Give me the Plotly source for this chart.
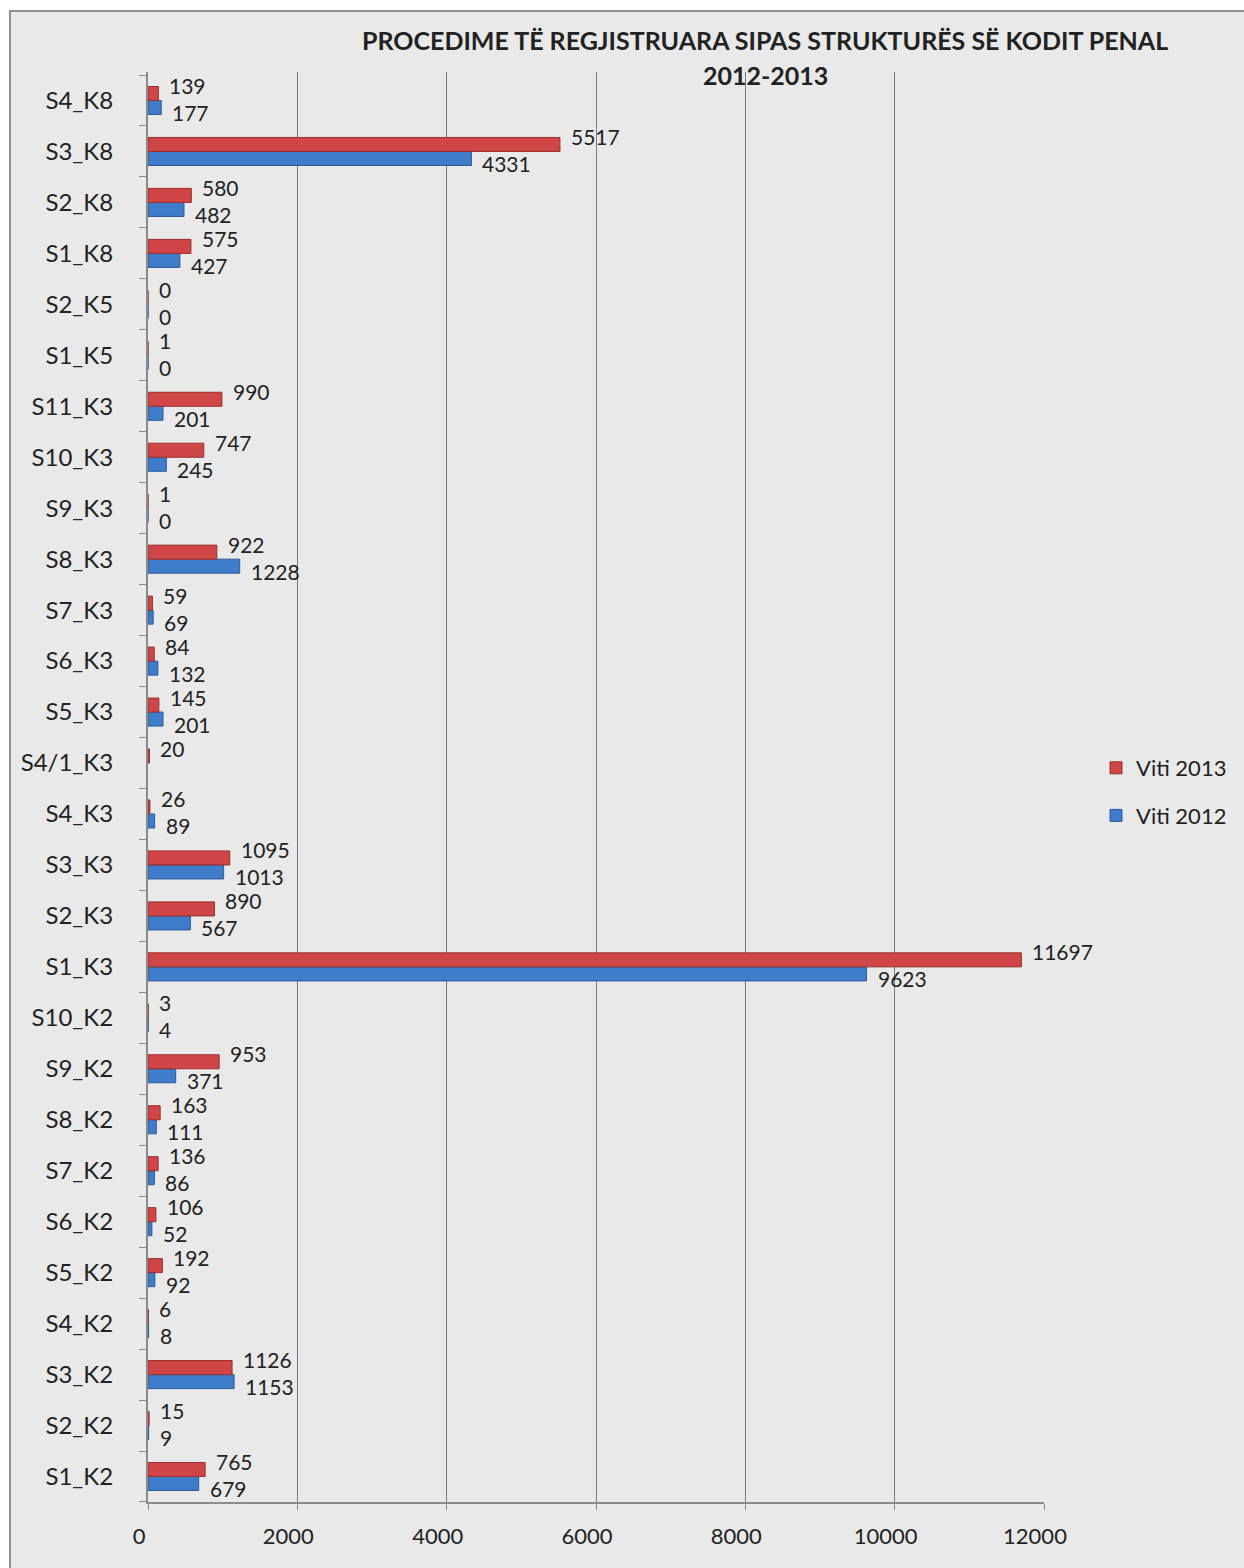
import plotly.graph_objects as go

categories = ["S1_K2", "S2_K2", "S3_K2", "S4_K2", "S5_K2", "S6_K2", "S7_K2", "S8_K2",
              "S9_K2", "S10_K2", "S1_K3", "S2_K3", "S3_K3", "S4_K3", "S4/1_K3", "S5_K3",
              "S6_K3", "S7_K3", "S8_K3", "S9_K3", "S10_K3", "S11_K3", "S1_K5", "S2_K5",
              "S1_K8", "S2_K8", "S3_K8", "S4_K8"]
viti_2012 = [679, 9, 1153, 8, 92, 52, 86, 111, 371, 4, 9623, 567, 1013, 89, None, 201,
             132, 69, 1228, 0, 245, 201, 0, 0, 427, 482, 4331, 177]
viti_2013 = [765, 15, 1126, 6, 192, 106, 136, 163, 953, 3, 11697, 890, 1095, 26, 20, 145,
             84, 59, 922, 1, 747, 990, 1, 0, 575, 580, 5517, 139]
x_ticks = [0, 2000, 4000, 6000, 8000, 10000, 12000]

FONT = "Lato"
W, H = 1244, 1568
L, R, T, B = 148, 200, 72, 66
pw = W - L - R
ph = H - T - B

def px_x(p):
    return (p - L) / pw

def px_y(p):
    return (H - B - p) / ph

fig = go.Figure()
fig.add_trace(go.Bar(
    y=categories, x=viti_2012, orientation="h", name="Viti 2012",
    marker=dict(color="#3f7cc9", line=dict(color="#2a5a9a", width=1)),
    cliponaxis=False, legendrank=2, legendgroup="g2012",
))
fig.add_trace(go.Bar(
    y=categories, x=viti_2013, orientation="h", name="Viti 2013",
    marker=dict(color="#d04646", line=dict(color="#9a2e2e", width=1)),
    cliponaxis=False, legendrank=1, legendgroup="g2013",
))

annotations = []
for cat, v in zip(categories, viti_2013):
    if v is None:
        continue
    annotations.append(dict(x=v, y=cat, xref="x", yref="y", text=str(v), showarrow=False,
                            xanchor="left", yanchor="middle", xshift=10, yshift=15,
                            borderpad=0,
                            font=dict(family=FONT, size=21, color="#222")))
for cat, v in zip(categories, viti_2012):
    if v is None:
        continue
    annotations.append(dict(x=v, y=cat, xref="x", yref="y", text=str(v), showarrow=False,
                            xanchor="left", yanchor="middle", xshift=10, yshift=-12,
                            borderpad=0,
                            font=dict(family=FONT, size=21, color="#222")))

annotations.append(dict(
    text="<b>PROCEDIME TË REGJISTRUARA SIPAS STRUKTURËS SË KODIT PENAL</b>",
    xref="paper", yref="paper", x=px_x(765), y=px_y(40), xanchor="center", yanchor="middle",
    showarrow=False, font=dict(family=FONT, size=25, color="#222"),
))
annotations.append(dict(
    text="<b>2012-2013</b>",
    xref="paper", yref="paper", x=px_x(765), y=px_y(75), xanchor="center", yanchor="middle",
    showarrow=False, font=dict(family=FONT, size=25, color="#222"),
))

fig.update_layout(
    width=W, height=H,
    margin=dict(l=L, r=R, t=T, b=B, autoexpand=False),
    paper_bgcolor="#ffffff", plot_bgcolor="rgba(0,0,0,0)",
    barmode="group", bargap=0.45, bargroupgap=0.0,
    font=dict(family=FONT, size=22, color="#222"),
    showlegend=True,
    legend=dict(x=px_x(1096), y=px_y(792), xanchor="left", yanchor="middle",
                traceorder="grouped", tracegroupgap=16, itemwidth=30,
                bgcolor="rgba(0,0,0,0)", font=dict(family=FONT, size=22, color="#222")),
    xaxis=dict(range=[0, 12000], tickvals=x_ticks, ticktext=[str(v) for v in x_ticks],
               showgrid=True, gridcolor="#7a7a7a", gridwidth=1.3,
               showline=True, linecolor="#8a8a8a", linewidth=2,
               ticks="outside", ticklen=6, tickcolor="#8a8a8a",
               ticklabelstandoff=8, ticklabelshift=-9, zeroline=False, automargin=False,
               tickfont=dict(family=FONT, size=22, color="#222")),
    yaxis=dict(categoryorder="array", categoryarray=categories,
               showline=True, linecolor="#8a8a8a", linewidth=2,
               ticks="outside", ticklen=7, tickcolor="#8a8a8a", tickson="boundaries",
               ticklabelstandoff=28, showgrid=False, automargin=False,
               tickfont=dict(family=FONT, size=24, color="#222")),
    annotations=annotations,
    shapes=[dict(type="rect", xref="paper", yref="paper",
                 x0=px_x(10), x1=px_x(1260), y0=px_y(1580), y1=px_y(11),
                 fillcolor="#e9e9e9",
                 line=dict(color="#8f8f8f", width=2), layer="below")],
)

fig.write_html("out.html", config={"displayModeBar": False},
               post_script="document.body.style.margin='0';document.body.style.background='#ffffff';")
